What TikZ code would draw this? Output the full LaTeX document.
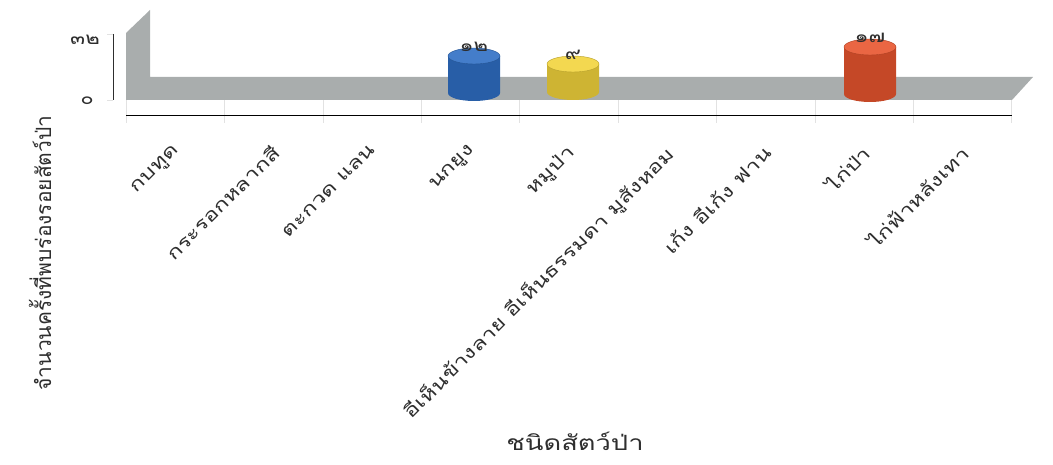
\documentclass[tikz,border=0pt]{standalone}
\usepackage{fontspec}
\newfontfamily\thaifont[Script=Thai]{Loma}
\newfontfamily\thaiwide[Script=Thai, FakeStretch=1.3]{Loma}

\definecolor{floorgray}{HTML}{A9ADAD}
\definecolor{inkgray}{HTML}{2E2E2E}
\definecolor{gridgray}{HTML}{E2E2E2}
\definecolor{peacockblue}{HTML}{2F6FC4}
\definecolor{boaryellow}{HTML}{F2D43C}
\definecolor{fowlred}{HTML}{E8552E}

\tikzset{
    catlabel/.style={anchor=north east, rotate=45, inner sep=1pt, text=inkgray,
        font=\thaiwide\fontsize{18}{18}\selectfont},
    ticklabel/.style={anchor=center, text=inkgray, font=\thaiwide\fontsize{17}{17}\selectfont},
    valuelabel/.style={anchor=center, inner sep=0pt, text=inkgray, font=\thaiwide\fontsize{17}{17}\selectfont},
    titlelabel/.style={text=inkgray, font=\thaifont\fontsize{21}{21}\selectfont}
}

% name, x, top centre y, bottom centre y, colour, value
\newcommand{\drumbar}[6]{%
    \shade[left color=#5!85!black, middle color=#5!95!white, right color=#5!85!black]
        (#2-26,-#3) -- (#2-26,-#4) arc[start angle=180, end angle=360, x radius=26, y radius=8]
        -- (#2+26,-#3) -- cycle;
    \filldraw[fill=#5!90!white, draw=#5!75!black, thin] (#2,-#3) ellipse [x radius=26, y radius=8];
    \node[valuelabel] (#1) at (#2,-#3+9) {#6};
}

\begin{document}
\begin{tikzpicture}[x=1pt,y=1pt]
    \useasboundingbox (0,0) rectangle (1053,-465);

    % back wall and floor
    \fill[floorgray] (126,-33) -- (150,-10) -- (150,-77) -- (1033,-77) -- (1012,-100) -- (126,-100) -- cycle;

    % value axis
    \draw[inkgray, thick] (113,-34) -- (113,-100);
    \draw[gridgray] (107,-34) -- (113,-34);
    \draw[gridgray] (107,-100) -- (113,-100);
    \node[ticklabel] (top) at (85,-40) {๓๒};
    \node[ticklabel] (zero) at (87,-101) {๐};

    % category axis
    \foreach \i in {0,...,9}
        \draw[gridgray] (126+98.4*\i,-100) -- (126+98.4*\i,-123);
    \draw[black, thick] (126,-115) -- (1012,-115);

    \foreach \name [count=\i] in {กบทูด, กระรอกหลากสี, ตะกวด แลน, นกยูง, หมูป่า,
        อีเห็นข้างลาย อีเห็นธรรมดา มูสังหอม, เก้ง อีเก้ง ฟาน, ไก่ป่า, ไก่ฟ้าหลังเทา}
        \node[catlabel] (cat\i) at (172+98.4*\i-98.4,-142) {\name};

    % bars
    \drumbar{peacock}{474}{56}{93}{peacockblue}{๑๒}
    \drumbar{boar}{573}{64}{92}{boaryellow}{๙}
    \drumbar{junglefowl}{870}{47}{94}{fowlred}{๑๗}

    % axis titles
    \node[titlelabel, rotate=90] (ytitle) at (40,-253) {จำนวนครั้งที่พบร่องรอยสัตว์ป่า};
    \node[titlelabel] (xtitle) at (575,-441) {\thaiwide ชนิดสัตว์ป่า};
\end{tikzpicture}
\end{document}
